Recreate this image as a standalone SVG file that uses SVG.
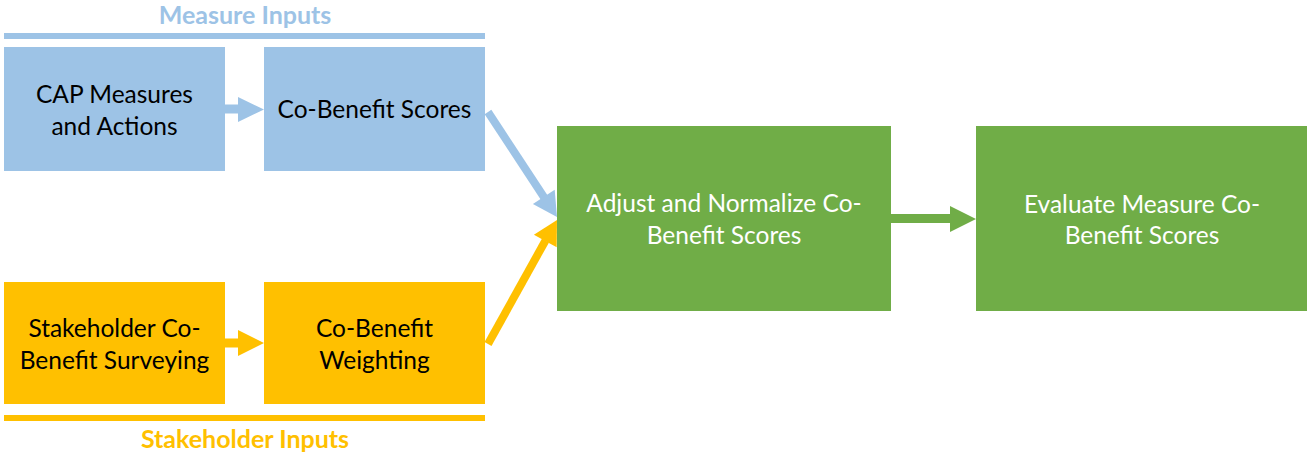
<svg xmlns="http://www.w3.org/2000/svg" width="1307" height="452" viewBox="0 0 1307 452">
<style>
text{font-family:Lato,"Open Sans","Liberation Sans",sans-serif;font-size:24.5px;text-anchor:middle}
.dk{fill:#000}
.wt{fill:#fff}
.hdr{font-weight:bold;font-size:25px}
.blue{fill:#9DC3E6}
.yel{fill:#FFC000}
.grn{fill:#70AD47}
</style>
<rect width="1307" height="452" fill="#fff"/>
<g id="labels">
<text class="hdr" x="245" y="24" fill="#9DC3E6">Measure Inputs</text>
<rect x="4" y="33" width="481" height="6" class="blue"/>
<rect x="4" y="415" width="481" height="6" class="yel"/>
<text class="hdr" x="245" y="448" fill="#FFC000">Stakeholder Inputs</text>
</g>
<g id="n1"><rect x="4" y="47" width="221" height="124" class="blue"/>
<text class="dk" x="114.5" y="103">CAP Measures</text><text class="dk" x="114.5" y="135">and Actions</text></g>
<g id="n2"><rect x="264" y="47" width="221" height="124" class="blue"/>
<text class="dk" x="374.5" y="118">Co-Benefit Scores</text></g>
<g id="n3"><rect x="4" y="282" width="221" height="122" class="yel"/>
<text class="dk" x="114.5" y="337">Stakeholder Co-</text><text class="dk" x="114.5" y="369">Benefit Surveying</text></g>
<g id="n4"><rect x="264" y="282" width="221" height="122" class="yel"/>
<text class="dk" x="374.5" y="337">Co-Benefit</text><text class="dk" x="374.5" y="369">Weighting</text></g>
<g id="n5"><rect x="557" y="126" width="334" height="185" class="grn"/>
<text class="wt" x="724" y="212">Adjust and Normalize Co-</text><text class="wt" x="724" y="244">Benefit Scores</text></g>
<g id="n6"><rect x="976" y="126" width="332" height="185" class="grn"/>
<text class="wt" x="1142" y="213">Evaluate Measure Co-</text><text class="wt" x="1142" y="244">Benefit Scores</text></g>
<g id="connectors">
<polygon class="blue" points="225,104.5 238,104.5 238,97 264,109.5 238,122 238,113.5 225,113.5"/>
<polygon class="yel" points="225,338.5 238,338.5 238,330 264,343 238,356 238,347.5 225,347.5"/>
<polygon class="grn" points="891,214 950,214 950,206 976,219 950,232 950,223 891,223"/>
<line x1="488" y1="112" x2="544.5" y2="198" stroke="#9DC3E6" stroke-width="8"/>
<polygon class="blue" points="557,217 532.9,204 554.7,189.8"/>
<line x1="488" y1="344" x2="545.5" y2="240.5" stroke="#FFC000" stroke-width="8"/>
<polygon class="yel" points="557,220 533.9,234.7 556.7,247.3"/>
</g>
</svg>
